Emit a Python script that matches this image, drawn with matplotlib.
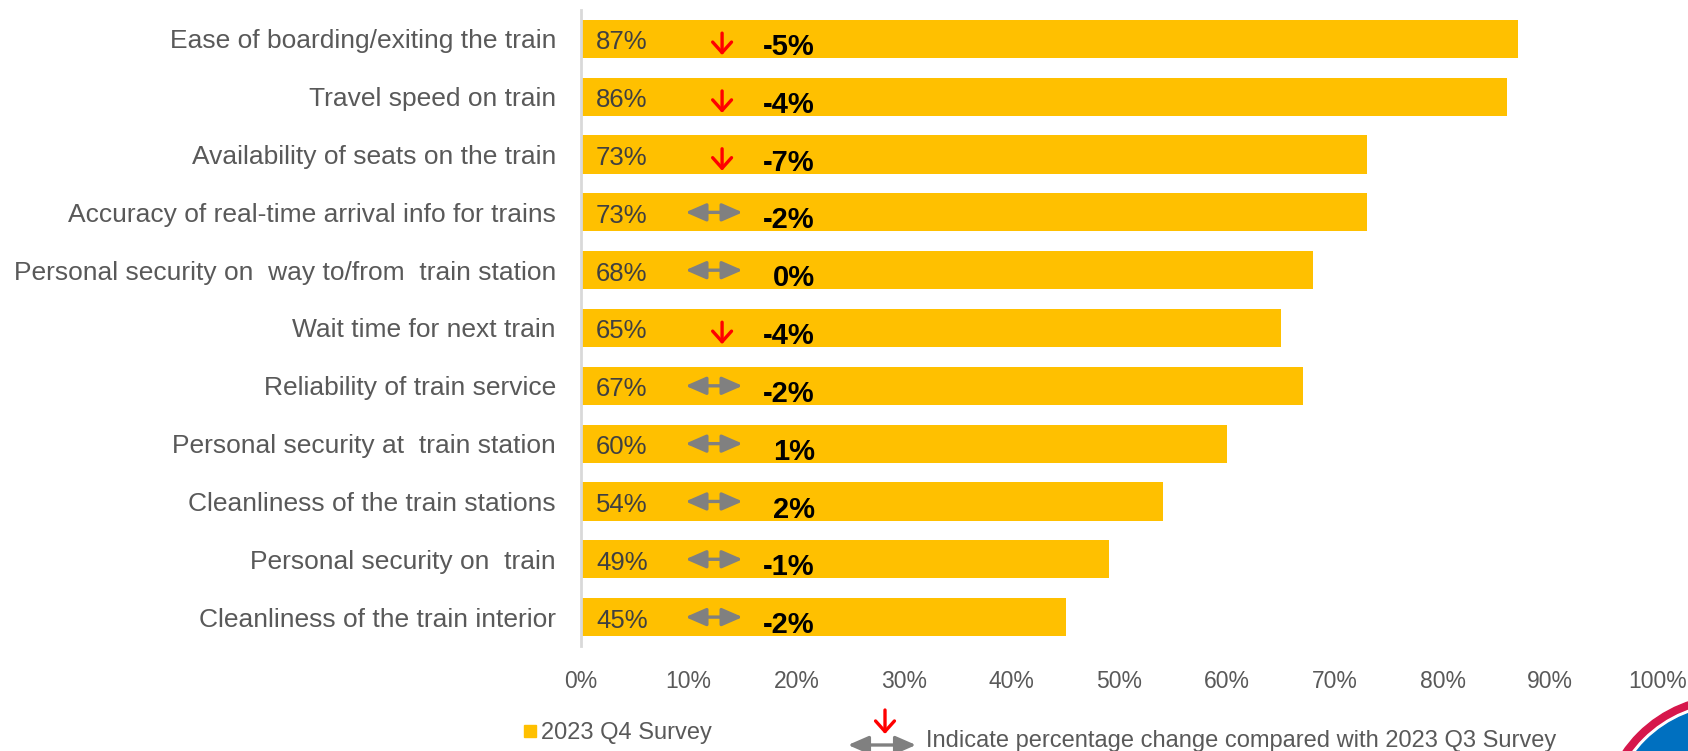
import matplotlib
matplotlib.use("Agg")
import matplotlib.pyplot as plt
from matplotlib.patches import Circle, Rectangle

plt.rcParams['font.family'] = ['Liberation Sans', 'DejaVu Sans']

categories = [
    "Ease of boarding/exiting the train",
    "Travel speed on train",
    "Availability of seats on the train",
    "Accuracy of real-time arrival info for trains",
    "Personal security on  way to/from  train station",
    "Wait time for next train",
    "Reliability of train service",
    "Personal security at  train station",
    "Cleanliness of the train stations",
    "Personal security on  train",
    "Cleanliness of the train interior",
]
q4_values = [87, 86, 73, 73, 68, 65, 67, 60, 54, 49, 45]
changes = [-5, -4, -7, -2, 0, -4, -2, 1, 2, -1, -2]
trend = ["down", "down", "down", "flat", "flat", "down", "flat", "flat", "flat", "flat", "flat"]
xticks = [0, 10, 20, 30, 40, 50, 60, 70, 80, 90, 100]

BAR = "#FFC000"
GREY_TXT = "#595959"
ARROW_GREY = "#808080"

W, H = 1688, 751
fig = plt.figure(figsize=(W / 100, H / 100), dpi=100)
ax = fig.add_axes([581 / W, 1 - 646 / H, (1658 - 581) / W, (646 - 10) / H])

ypos = list(range(len(categories)))
ax.barh(ypos, q4_values, height=0.66, color=BAR, zorder=2)
ax.set_xlim(0, 100)
ax.set_ylim(len(categories) - 0.5, -0.5)
ax.set_yticks(ypos)
ax.set_yticklabels(categories, fontsize=19, color=GREY_TXT)
ax.set_xticks(xticks)
ax.set_xticklabels([f"{t}%" for t in xticks], fontsize=16.5, color=GREY_TXT)
ax.tick_params(axis='both', length=0)
ax.tick_params(axis='y', pad=18)
ax.tick_params(axis='x', pad=17)
for s in ["top", "right", "bottom"]:
    ax.spines[s].set_visible(False)
ax.spines["left"].set_color("#D9D9D9")
ax.spines["left"].set_linewidth(2)
ax.spines["left"].set_zorder(3)

for y, v, c, t in zip(ypos, q4_values, changes, trend):
    ax.text(1.4, y + 0.06, f"{v}%", ha="left", va="center", fontsize=18.5,
            color="#404040", zorder=4)
    ax.text(21.7, y + 0.14, f"{c}%", ha="right", va="center", fontsize=21,
            fontweight="bold", color="black", zorder=4)
    if t == "down":
        ax.annotate("", xy=(13.1, y + 0.28), xytext=(13.1, y - 0.10),
                    arrowprops=dict(arrowstyle="->,head_length=0.38,head_width=0.34",
                                    color="red", lw=2.4, shrinkA=0, shrinkB=0,
                                    mutation_scale=20), zorder=4)
    else:
        ax.annotate("", xy=(15.0, y), xytext=(9.7, y),
                    arrowprops=dict(arrowstyle="<|-|>,head_length=0.62,head_width=0.27",
                                    color=ARROW_GREY, lw=2.4, shrinkA=0, shrinkB=0,
                                    mutation_scale=20), zorder=4)

# Overlay in pixel space for the legend keys and the logo
ov = fig.add_axes([0, 0, 1, 1], zorder=5)
ov.set_xlim(0, W)
ov.set_ylim(H, 0)
ov.axis("off")
ov.patch.set_alpha(0)

ov.add_patch(Rectangle((524, 725), 12, 12, color=BAR))
ov.text(541, 733, "2023 Q4 Survey", ha="left", va="center", fontsize=17, color=GREY_TXT)

ov.annotate("", xy=(885, 734), xytext=(885, 710),
            arrowprops=dict(arrowstyle="->,head_length=0.38,head_width=0.34",
                            color="red", lw=2.4, shrinkA=0, shrinkB=0, mutation_scale=20))
ov.annotate("", xy=(916, 745), xytext=(848, 745),
            arrowprops=dict(arrowstyle="<|-|>,head_length=0.62,head_width=0.27",
                            color=ARROW_GREY, lw=2.4, shrinkA=0, shrinkB=0,
                            mutation_scale=20))
ov.text(926, 741, "Indicate percentage change compared with 2023 Q3 Survey",
        ha="left", va="center", fontsize=17, color=GREY_TXT)

# Logo partly outside the canvas
ov.add_patch(Circle((1730, 825), 130, color="#D6174B"))
ov.add_patch(Circle((1730, 825), 122, color="white"))
ov.add_patch(Circle((1730, 825), 119, color="#0070C0"))

fig.savefig("out.png", dpi=100)
